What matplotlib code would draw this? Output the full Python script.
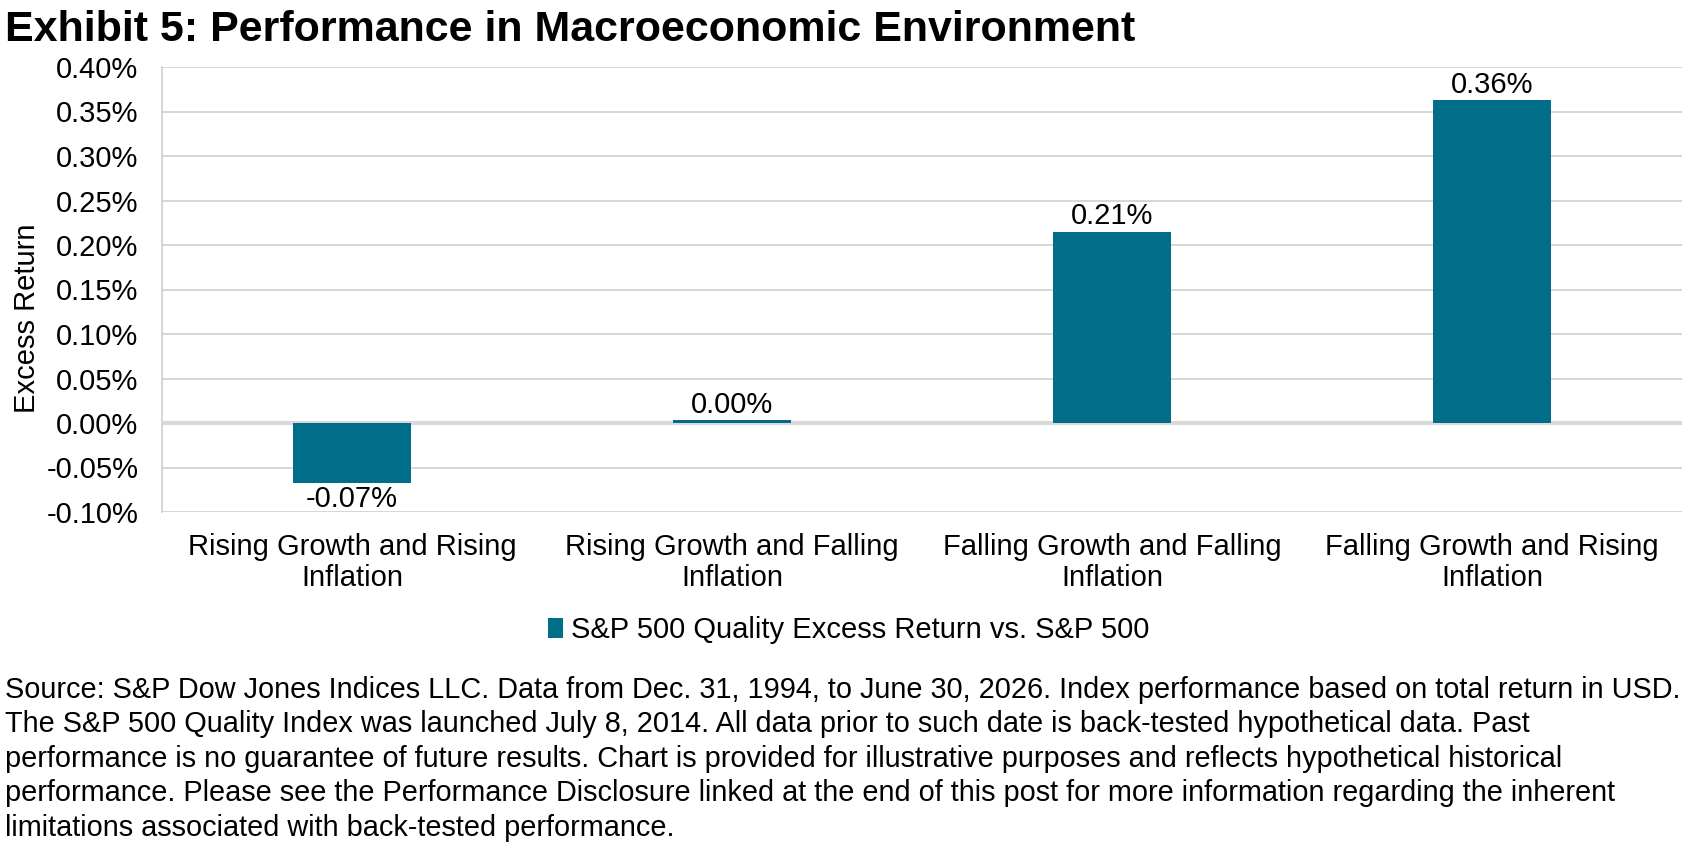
import matplotlib
matplotlib.use("Agg")
import matplotlib.pyplot as plt
import numpy as np

plt.rcParams['font.family'] = ['Liberation Sans', 'DejaVu Sans']

# data
categories = ["Rising Growth and Rising\nInflation",
              "Rising Growth and Falling\nInflation",
              "Falling Growth and Falling\nInflation",
              "Falling Growth and Rising\nInflation"]
excess_return = [-0.067, 0.003, 0.215, 0.363]
bar_labels = ["-0.07%", "0.00%", "0.21%", "0.36%"]
yticks = [-0.10, -0.05, 0.00, 0.05, 0.10, 0.15, 0.20, 0.25, 0.30, 0.35, 0.40]
series_name = "S&P 500 Quality Excess Return vs. S&P 500"
title = "Exhibit 5: Performance in Macroeconomic Environment"
footer = ("Source: S&P Dow Jones Indices LLC. Data from Dec. 31, 1994, to June 30, 2026. Index performance based on total return in USD.\n"
          "The S&P 500 Quality Index was launched July 8, 2014. All data prior to such date is back-tested hypothetical data. Past\n"
          "performance is no guarantee of future results. Chart is provided for illustrative purposes and reflects hypothetical historical\n"
          "performance. Please see the Performance Disclosure linked at the end of this post for more information regarding the inherent\n"
          "limitations associated with back-tested performance.")

W, H = 1693, 852
BAR = '#006E88'
GRID = '#D0D0D0'
FS = 21

fig = plt.figure(figsize=(W / 100, H / 100), dpi=100)
ax = fig.add_axes([162 / W, 1 - 512 / H, 1520 / W, 445 / H])

x = np.arange(len(categories))
bars = ax.bar(x, excess_return, width=0.313, color=BAR, label=series_name, zorder=3)

ax.set_xlim(-0.5, len(categories) - 0.5)
ax.set_ylim(-0.10, 0.40)
ax.set_yticks(yticks)
ax.set_yticklabels([f"{t:.2f}%" for t in yticks], fontsize=FS)
ax.set_xticks(x)
ax.set_xticklabels(categories, fontsize=FS, linespacing=1.14)
ax.tick_params(axis='y', length=0, pad=17)
ax.tick_params(axis='x', length=0, pad=15)

ax.yaxis.grid(True, color=GRID, linewidth=1.2, zorder=0)
ax.axhline(0, color='#D9D9D9', linewidth=3, zorder=2)
for s in ['top', 'right', 'bottom']:
    ax.spines[s].set_visible(False)
ax.spines['left'].set_color(GRID)
ax.spines['left'].set_linewidth(1.2)

# y label sits a bit below the axis middle, as in the original
fig.text(27 / W, 1 - 318 / H, "Excess Return", fontsize=FS, rotation=90,
         ha='center', va='center')

for b, v, lab in zip(bars, excess_return, bar_labels):
    cx = b.get_x() + b.get_width() / 2
    if v < 0:
        ax.annotate(lab, (cx, v), xytext=(0, -2), textcoords='offset points',
                    ha='center', va='top', fontsize=FS)
    else:
        ax.annotate(lab, (cx, v), xytext=(0, 1), textcoords='offset points',
                    ha='center', va='bottom', fontsize=FS)

fig.text(5 / W, 1 - 30 / H, title, fontsize=31, fontweight='bold', va='center', ha='left')

fig.legend(handles=[bars], labels=[series_name], loc='center',
           bbox_to_anchor=(849 / W, 1 - 630 / H), frameon=False, fontsize=FS,
           handlelength=0.5, handleheight=0.7, handletextpad=0.3)

fig.text(5 / W, 1 - 676 / H, footer, fontsize=20.8, va='top', ha='left', linespacing=1.29)

fig.savefig("out.png", dpi=100)
